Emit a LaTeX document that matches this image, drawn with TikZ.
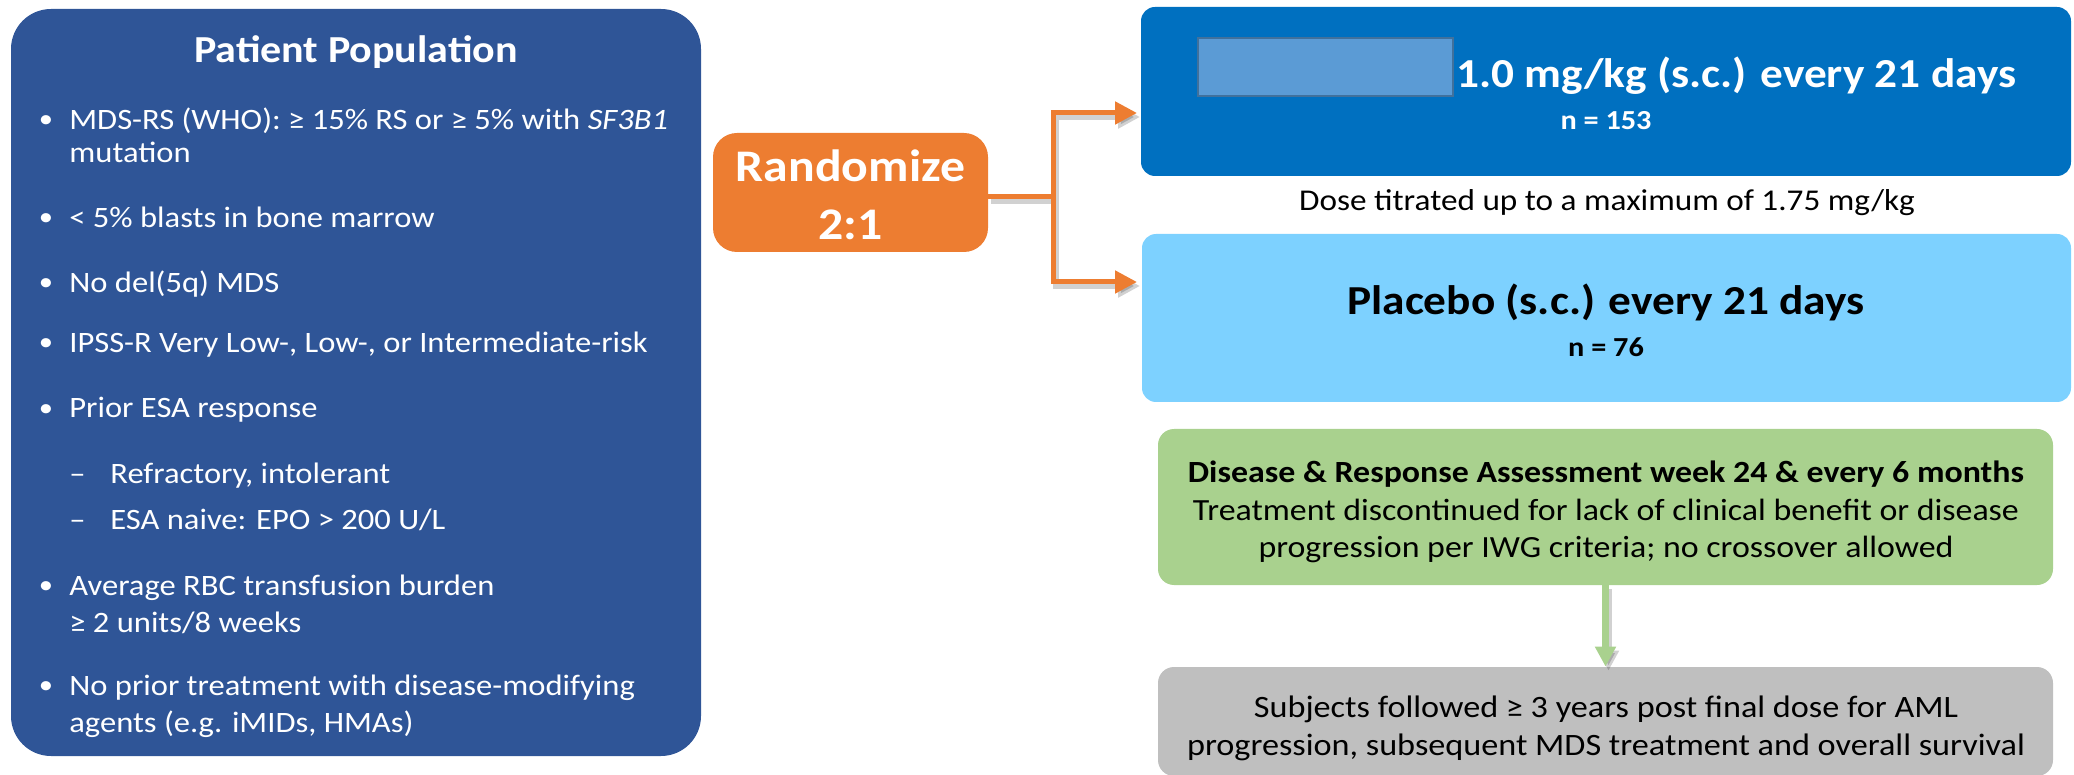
\documentclass[tikz,border=0pt]{standalone}
\usepackage{fontspec}
\setmainfont{Carlito}[FakeStretch=1.1]
\usetikzlibrary{arrows.meta}
\definecolor{popblue}{HTML}{2F5597}
\definecolor{randorange}{HTML}{ED7D31}
\definecolor{armblue}{HTML}{0070C0}
\definecolor{plcblue}{HTML}{7DD1FF}
\definecolor{assgreen}{HTML}{A9D18E}
\definecolor{follgrey}{HTML}{BFBFBF}
\definecolor{redactfill}{HTML}{5B9BD5}
\definecolor{redactdraw}{HTML}{41719C}
\begin{document}
\begin{tikzpicture}[x=0.5pt,y=-0.5pt,
  panel/.style={draw=none,inner sep=0pt,rounded corners=#1},
  bul/.style={text=white,anchor=base,inner sep=0pt,font=\fontsize{13}{17}\selectfont},
  btxt/.style={text=white,anchor=base west,inner sep=0pt,font=\fontsize{14.8}{17}\selectfont},
  ctxt/.style={anchor=base,inner sep=0pt},
  orline/.style={draw=randorange,line width=2.5pt},
  shline/.style={draw=black,opacity=0.18,line width=3pt},
]
\useasboundingbox (0,0) rectangle (2074,775);
% boxes
\node[panel=20pt,fill=popblue,minimum width=345pt,minimum height=373.5pt] (pop) at (356,382.5) {};
\node[panel=12pt,fill=randorange,minimum width=137.5pt,minimum height=59.5pt] (rand) at (850.5,192.5) {};
\node[panel=7pt,fill=armblue,minimum width=465pt,minimum height=84.5pt] (arm) at (1606,91.5) {};
\node[panel=7pt,fill=plcblue,minimum width=464.5pt,minimum height=84pt] (plc) at (1606.5,318) {};
\node[panel=8pt,fill=assgreen,minimum width=447.5pt,minimum height=78pt] (grn) at (1605.5,507) {};
\node[panel=8pt,fill=follgrey,minimum width=447.5pt,minimum height=54.5pt] (gry) at (1605.5,721.5) {};
\node[draw=redactdraw,line width=0.8pt,fill=redactfill,inner sep=0pt,minimum width=127.5pt,minimum height=29pt] (redact) at (1325.5,67) {};

% patient population
\node[ctxt,text=white,font=\fontsize{19.1}{23}\bfseries\selectfont] (title) at (356,63) {Patient Population};
\node[bul] (b1) at (46,128) {•};
\node[btxt] (t1) at (69,130) {MDS-RS (WHO): ≥ 15\% RS or ≥ 5\% with \textit{SF3B1}};
\node[btxt] (t1b) at (69,163) {mutation};
\node[bul] (b2) at (46,226) {•};
\node[btxt] (t2) at (69,228) {< 5\% blasts in bone marrow};
\node[bul] (b3) at (46,291) {•};
\node[btxt] (t3) at (69,293) {No del(5q) MDS};
\node[bul] (b4) at (46,351) {•};
\node[btxt] (t4) at (69,353) {IPSS-R Very Low-, Low-, or Intermediate-risk};
\node[bul] (b5) at (46,416) {•};
\node[btxt] (t5) at (69,418) {Prior ESA response};
\node[btxt] (d1) at (69,483) {–};
\node[btxt] (t5a) at (110,483) {Refractory, intolerant};
\node[btxt] (d2) at (69,530) {–};
\node[btxt] (t5b) at (110,530) {ESA naive: EPO > 200 U/L};
\node[bul] (b6) at (46,593) {•};
\node[btxt] (t6) at (69,595) {Average RBC transfusion burden};
\node[btxt] (t6b) at (69,632) {≥ 2 units/8 weeks};
\node[bul] (b7) at (46,693) {•};
\node[btxt] (t7) at (69,695) {No prior treatment with disease-modifying};
\node[btxt] (t7b) at (69,732) {agents (e.g. iMIDs, HMAs)};

% randomize
\node[ctxt,text=white,font=\fontsize{22.6}{27}\bfseries\selectfont] (r1) at (850.5,182) {Randomize};
\node[ctxt,text=white,font=\fontsize{22.6}{27}\bfseries\selectfont] (r2) at (850.5,240) {2:1};

% arms
\node[anchor=base west,inner sep=0pt,text=white,font=\fontsize{20.6}{24}\bfseries\selectfont] (armt) at (1456,88) {1.0 mg/kg (s.c.) every 21 days};
\node[ctxt,text=white,font=\fontsize{13.75}{16}\bfseries\selectfont] (armn) at (1606,130) {n = 153};
\node[ctxt,font=\fontsize{15.1}{18}\selectfont] (dose) at (1607,211) {Dose titrated up to a maximum of 1.75 mg/kg};
\node[ctxt,font=\fontsize{20.6}{24}\bfseries\selectfont] (plct) at (1606,315) {Placebo (s.c.) every 21 days};
\node[ctxt,font=\fontsize{13.75}{16}\bfseries\selectfont] (plcn) at (1606,357) {n = 76};

% assessment
\node[ctxt,font=\fontsize{15.4}{18}\bfseries\selectfont] (g1) at (1606,482) {Disease \& Response Assessment week 24 \& every 6 months};
\node[ctxt,font=\fontsize{15.4}{18}\selectfont] (g2) at (1606,520) {Treatment discontinued for lack of clinical benefit or disease};
\node[ctxt,font=\fontsize{15.4}{18}\selectfont] (g3) at (1606,557) {progression per IWG criteria; no crossover allowed};
\node[ctxt,font=\fontsize{15.55}{18}\selectfont] (f1) at (1606,717) {Subjects followed ≥ 3 years post final dose for AML};
\node[ctxt,font=\fontsize{15.55}{18}\selectfont] (f2) at (1606,755) {progression, subsequent MDS treatment and overall survival};

% connectors
\coordinate (j) at (1053,197);
\coordinate (a1) at (1137,113);
\coordinate (a2) at (1137,282);
\begin{scope}[transform canvas={shift={(1.5pt,-2pt)}}]
  \draw[shline] (rand.east |- j) -- (j);
  \draw[shline,-{Triangle[length=11pt,width=11pt]}] (j) |- (a1);
  \draw[shline,-{Triangle[length=11pt,width=11pt]}] (j) |- (a2);
  \draw[shline,line width=3.5pt,-{Triangle[length=10pt,width=10pt]}] (grn.south) -- (gry.north);
\end{scope}
\draw[orline] (rand.east |- j) -- (j);
\draw[orline,-{Triangle[length=11pt,width=11pt]}] (j) |- (a1);
\draw[orline,-{Triangle[length=11pt,width=11pt]}] (j) |- (a2);
\draw[draw=assgreen,line width=3.5pt,-{Triangle[length=10pt,width=10pt]}] (grn.south) -- (gry.north);
\end{tikzpicture}
\end{document}
